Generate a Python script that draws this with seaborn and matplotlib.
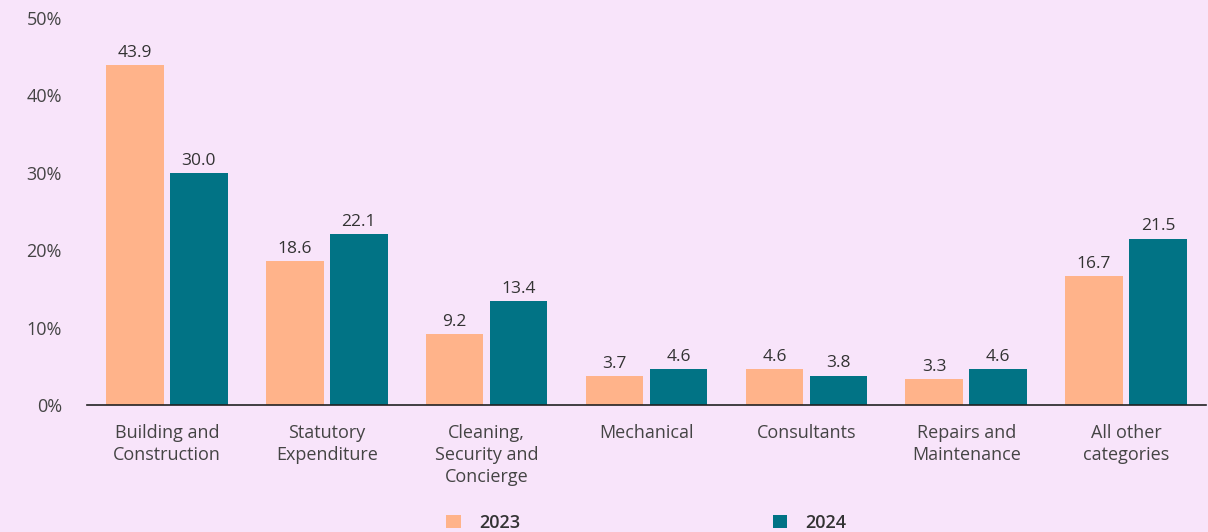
import pandas as pd
import seaborn as sns
import matplotlib.pyplot as plt
from matplotlib.ticker import FuncFormatter, MultipleLocator

categories = ["Building and\nConstruction", "Statutory\nExpenditure",
              "Cleaning,\nSecurity and\nConcierge", "Mechanical", "Consultants",
              "Repairs and\nMaintenance", "All other\ncategories"]
values_2023 = [43.9, 18.6, 9.2, 3.7, 4.6, 3.3, 16.7]
values_2024 = [30.0, 22.1, 13.4, 4.6, 3.8, 4.6, 21.5]
years = ["2023", "2024"]

bg = "#F8E4FA"
colors = {"2023": "#FFB38A", "2024": "#017385"}

df = pd.DataFrame({
    "category": categories * 2,
    "year": [years[0]] * len(categories) + [years[1]] * len(categories),
    "value": values_2023 + values_2024,
})

sns.set_theme(style="white")
plt.rcParams['font.family'] = ['Open Sans', 'DejaVu Sans']

fig = plt.figure(figsize=(12.08, 5.32), dpi=100, facecolor=bg)
ax = fig.add_axes([87 / 1208, 127 / 532, 1119 / 1208, 387 / 532])
ax.set_facecolor(bg)

sns.barplot(data=df, x="category", y="value", hue="year", palette=colors,
            width=0.8, gap=0.1, saturation=1, linewidth=0, ax=ax)

for cont in ax.containers:
    ax.bar_label(cont, fmt="%.1f", padding=3, fontsize=12.5, color="#333333")

ax.set_xlim(-0.5, 6.5)
ax.set_ylim(0, 50)
ax.yaxis.set_major_locator(MultipleLocator(10))
ax.yaxis.set_major_formatter(FuncFormatter(lambda v, p: f"{v:.0f}%"))
ax.set_xlabel("")
ax.set_ylabel("")
ax.tick_params(axis="both", length=0, labelsize=13, colors="#444444")
ax.tick_params(axis="y", pad=18)
ax.tick_params(axis="x", pad=14)
for lab in ax.get_xticklabels():
    lab.set_linespacing(1.28)

for s in ["top", "right", "left"]:
    ax.spines[s].set_visible(False)
ax.spines["bottom"].set_color("#222222")
ax.spines["bottom"].set_linewidth(1.2)

handles, labels = ax.get_legend_handles_labels()
ax.legend_.remove()
leg = fig.legend(handles, labels, loc="lower center", bbox_to_anchor=(0.535, -0.03),
                 ncol=2, frameon=False, columnspacing=14, handlelength=0.8,
                 handleheight=0.8, handletextpad=1.0,
                 prop={"size": 13, "weight": "semibold"})
for t in leg.get_texts():
    t.set_color("#333333")

fig.savefig("out.png", dpi=100, facecolor=bg)
